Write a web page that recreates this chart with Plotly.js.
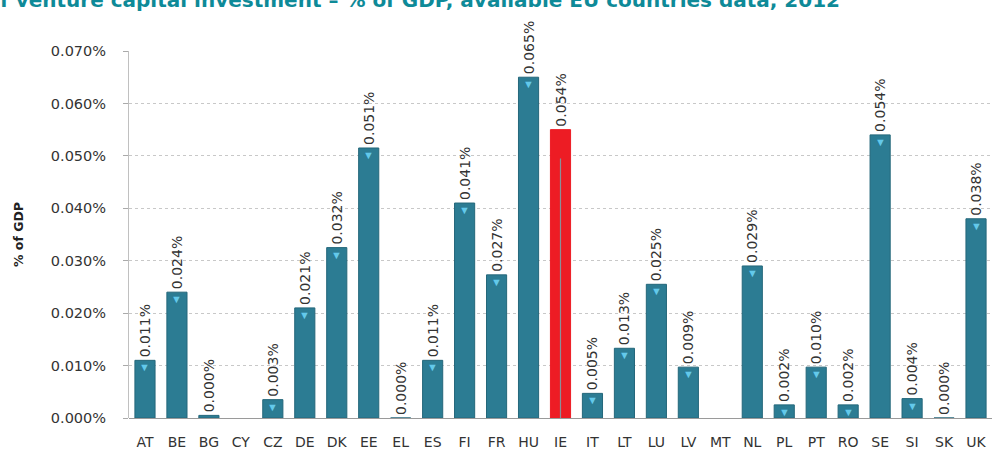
<!DOCTYPE html>
<html>
<head>
<meta charset="utf-8">
<script src="https://cdn.plot.ly/plotly-3.0.1.min.js"></script>
<style>html,body{margin:0;padding:0;background:#fff;}#chart{width:992px;height:452px;}</style>
</head>
<body>
<div id="chart"></div>
<script>
const countries = ["AT","BE","BG","CY","CZ","DE","DK","EE","EL","ES","FI","FR","HU","IE","IT","LT","LU","LV","MT","NL","PL","PT","RO","SE","SI","SK","UK"];
const values = [0.011,0.024,0.0005,null,0.0035,0.021,0.0325,0.0515,0,0.011,0.041,0.0273,0.065,0.055,0.0047,0.0133,0.0255,0.0097,null,0.029,0.0025,0.0097,0.0025,0.054,0.0037,0,0.038];
const labels = ["0.011%","0.024%","0.000%","","0.003%","0.021%","0.032%","0.051%","0.000%","0.011%","0.041%","0.027%","0.065%","0.054%","0.005%","0.013%","0.025%","0.009%","","0.029%","0.002%","0.010%","0.002%","0.054%","0.004%","0.000%","0.038%"];
const highlight = "IE";
const yTicks = [0,0.01,0.02,0.03,0.04,0.05,0.06,0.07];
const yTickText = ["0.000%","0.010%","0.020%","0.030%","0.040%","0.050%","0.060%","0.070%"];

const teal = "#2C7C93", red = "#ED1C24";
const FONT = "DejaVu Sans, Verdana, sans-serif";
const colors = countries.map(c => c === highlight ? red : teal);

const bars = {
  type: "bar",
  x: countries,
  y: values,
  text: labels,
  textposition: "outside",
  textangle: -90,
  constraintext: "none",
  cliponaxis: false,
  textfont: {family: FONT, size: 14, color: "#333"},
  marker: {color: colors, line: {color: colors.map(c => c === red ? red : "#24677a"), width: 1}},
  hoverinfo: "x+y"
};

const hiIdx = countries.indexOf(highlight);
const hiLine = {
  type: "scatter", mode: "lines",
  x: [highlight, highlight],
  y: [0, values[hiIdx] * 0.9],
  line: {color: "#8a8f98", width: 1.2},
  hoverinfo: "skip"
};

const annotations = [];
countries.forEach((c, i) => {
  const v = values[i];
  if (v !== null && v >= 0.002 && c !== highlight) {
    annotations.push({x: c, y: v, xref: "x", yref: "y", text: "▼", showarrow: false,
      yanchor: "top", yshift: 3, font: {size: 11, color: "#63C9EA"}});
  }
});

const layout = {
  width: 992, height: 452,
  margin: {l: 129, r: 0, t: 51, b: 34},
  paper_bgcolor: "#fff", plot_bgcolor: "#fff",
  bargap: 0.37,
  showlegend: false,
  title: {
    text: "f venture capital investment – % of GDP, available EU countries data, 2012",
    x: 0, xanchor: "left", xref: "container",
    y: 1, yanchor: "middle", yref: "container", pad: {t: 0},
    font: {family: FONT, size: 20, color: "#0E8A98", weight: "bold"}
  },
  xaxis: {
    type: "category",
    tickfont: {family: FONT, size: 14, color: "#333"},
    ticklabelstandoff: 14,
    showline: false, ticks: "", showgrid: false
  },
  yaxis: {
    range: [0, 0.07],
    tickvals: yTicks,
    ticktext: yTickText,
    tickfont: {family: FONT, size: 14.5, color: "#333"},
    showgrid: true, gridcolor: "#c8c8c8", griddash: "dot", gridwidth: 1,
    zeroline: true, zerolinecolor: "#9a9a9a", zerolinewidth: 1,
    ticks: "outside", ticklen: 5, tickcolor: "#aaa",
    ticklabelstandoff: 14,
    showline: true, linecolor: "#c0c0c0",
    title: {text: "% of GDP", standoff: 24,
      font: {family: FONT, size: 12.5, color: "#222", weight: "bold"}}
  },
  annotations: annotations
};

Plotly.newPlot("chart", [bars, hiLine], layout, {displayModeBar: false, staticPlot: true});
</script>
</body>
</html>
